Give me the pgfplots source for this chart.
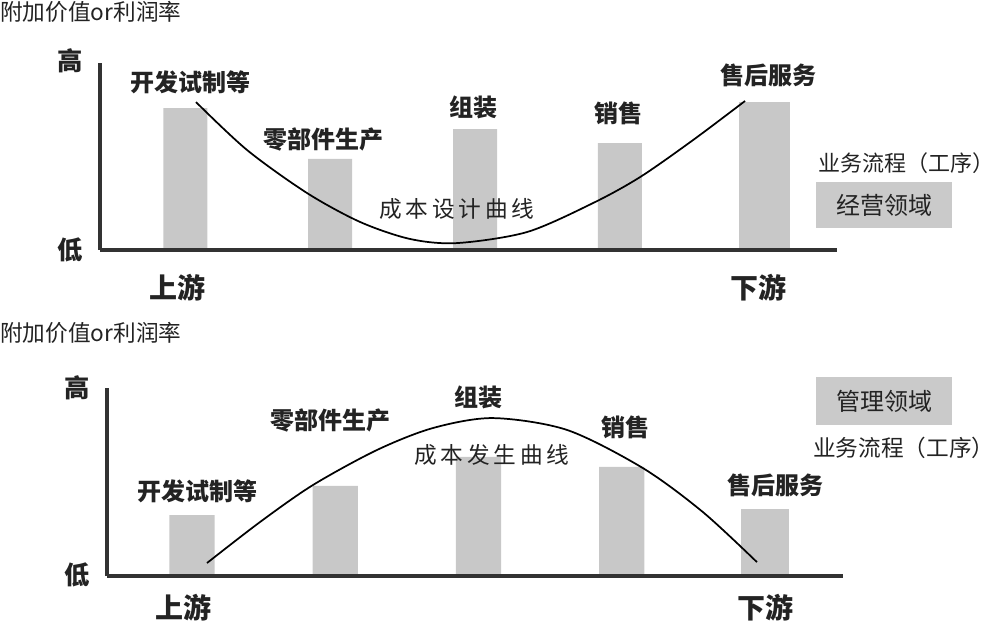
\documentclass[border=0pt]{standalone}
\usepackage{fontspec}
\setmainfont{Noto Sans CJK SC}
\usepackage{pgfplots}
\pgfplotsset{compat=1.18}
\definecolor{bargray}{RGB}{200,200,200}
\definecolor{boxgray}{RGB}{202,202,202}
\definecolor{axisgray}{RGB}{50,50,50}
\definecolor{txt}{RGB}{35,35,35}
\newcommand{\fs}[1]{\fontsize{#1}{#1}\selectfont}
\begin{document}
\begin{tikzpicture}[x=0.75pt,y=0.75pt]
\useasboundingbox (0,0) rectangle (1000,626);
\pgfplotsset{panel/.style={scale only axis, axis lines*=left,
  axis line style={axisgray, line width=2.4pt},
  xtick=\empty, ytick=\empty, ymin=0, ymax=100, clip=false,
  anchor=south west, axis on top=true}}

% ---------------- top panel ----------------
\begin{axis}[panel, at={(75pt,282pt)}, width=552.75pt, height=140.25pt, xmin=-0.59, xmax=4.50]
\addplot[ybar, bar shift=0pt, bar width=33pt, fill=bargray, draw=none]
  coordinates {(0,75.9) (1,48.7) (2,64.7) (3,57.2)};
\addplot[ybar, bar shift=0pt, bar width=38pt, fill=bargray, draw=none]
  coordinates {(4,79.1)};
\addplot[smooth, black, line width=1.3pt] coordinates {
  (0.073,79.1) (0.425,53.5) (0.839,30.5) (1.206,15.0) (1.551,5.9) (1.876,3.7)
  (2.359,9.6) (2.815,25.1) (3.140,39.0) (3.506,58.8) (3.865,79.7)};
\end{axis}

% ---------------- bottom panel ----------------
\begin{axis}[panel, at={(80.25pt,37.5pt)}, width=552pt, height=141pt, xmin=-0.593, xmax=4.545]
\addplot[ybar, bar shift=0pt, bar width=34pt, fill=bargray, draw=none]
  coordinates {(0,32.4) (1,47.9) (2,63.3) (3,58.0)};
\addplot[ybar, bar shift=0pt, bar width=36pt, fill=bargray, draw=none]
  coordinates {(4,35.6)};
\addplot[smooth, black, line width=1.3pt] coordinates {
  (0.105,6.9) (0.475,28.7) (0.845,48.4) (1.291,67.0) (1.682,78.7) (2.101,84.0)
  (2.618,77.7) (3.148,57.4) (3.567,34.0) (3.944,7.4)};
\end{axis}

% ---------------- texts top ----------------
\begin{scope}[every node/.style={inner sep=0pt, text=txt}]
\node[anchor=west] at (0,614) {\fs{17pt}附加价值or利润率};
\node at (70,565) {\fs{19pt}\bfseries 高};
\node at (70,376) {\fs{19pt}\bfseries 低};
\node at (177,338) {\fs{21pt}\bfseries 上游};
\node at (758,338) {\fs{21pt}\bfseries 下游};
\node at (190,544) {\fs{18pt}\bfseries 开发试制等};
\node at (323,487) {\fs{18pt}\bfseries 零部件生产};
\node at (473,519) {\fs{18pt}\bfseries 组装};
\node at (618,513) {\fs{18pt}\bfseries 销售};
\node at (768,551) {\fs{18pt}\bfseries 售后服务};
\node at (457,417) {\fs{17pt}成\,本\,设\,计\,曲\,线};
\node[anchor=west] at (818,463) {\fs{16.5pt}业务流程（工序）};
\fill[boxgray] (816,444) rectangle (952,398);
\node at (884,421) {\fs{18pt}经营领域};

% ---------------- texts bottom ----------------
\node[anchor=west] at (0,293) {\fs{17pt}附加价值or利润率};
\node at (77,238) {\fs{19pt}\bfseries 高};
\node at (77,51) {\fs{19pt}\bfseries 低};
\node at (183,18) {\fs{21pt}\bfseries 上游};
\node at (765,18) {\fs{21pt}\bfseries 下游};
\node at (197,135) {\fs{18pt}\bfseries 开发试制等};
\node at (330,206) {\fs{18pt}\bfseries 零部件生产};
\node at (478,229) {\fs{18pt}\bfseries 组装};
\node at (625,199) {\fs{18pt}\bfseries 销售};
\node at (775,141) {\fs{18pt}\bfseries 售后服务};
\node at (492,171) {\fs{17pt}成\,本\,发\,生\,曲\,线};
\fill[boxgray] (816,249) rectangle (952,201);
\node at (884,225) {\fs{18pt}管理领域};
\node[anchor=west] at (813,178) {\fs{17pt}业务流程（工序）};
\end{scope}
\end{tikzpicture}
\end{document}
